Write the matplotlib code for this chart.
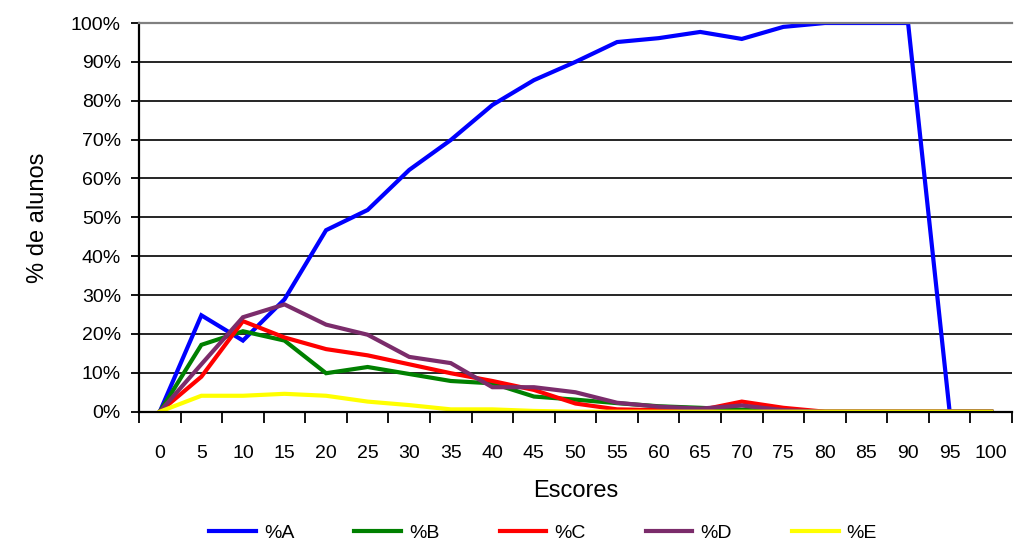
import numpy as np
import matplotlib
matplotlib.use("Agg")
import matplotlib.pyplot as plt
from matplotlib.ticker import FixedLocator, PercentFormatter

plt.rcParams['font.family'] = ['Liberation Sans', 'DejaVu Sans']

# escores (categorias do eixo x)
escores = [0, 5, 10, 15, 20, 25, 30, 35, 40, 45, 50, 55, 60, 65, 70, 75, 80, 85, 90, 95, 100]

# % de alunos por classe
pA = [0, 24.8, 18.3, 28.9, 46.7, 51.9, 62.2, 69.9, 78.9, 85.3, 90.0, 95.1, 96.1, 97.7, 95.9, 99.0, 100, 100, 100, 0, 0]
pB = [0, 17.2, 20.7, 18.3, 9.9, 11.5, 9.7, 7.9, 7.3, 3.9, 3.1, 2.2, 1.4, 1.0, 0.5, 0, 0, 0, 0, 0, 0]
pC = [0, 9.0, 23.3, 19.1, 16.1, 14.5, 12.2, 9.9, 7.9, 5.6, 2.1, 0.6, 0.4, 0.4, 2.6, 1.0, 0, 0, 0, 0, 0]
pD = [0, 12.2, 24.3, 27.6, 22.4, 19.8, 14.1, 12.5, 6.3, 6.3, 5.0, 2.3, 1.3, 0.8, 1.6, 0.4, 0, 0, 0, 0, 0]
pE = [0, 4.1, 4.1, 4.6, 4.1, 2.6, 1.7, 0.6, 0.6, 0.2, 0, 0, 0, 0, 0, 0, 0, 0, 0, 0, 0]

series = [("%A", pA, "#0000FF"), ("%B", pB, "#008000"), ("%C", pC, "#FF0000"),
          ("%D", pD, "#7B2C6B"), ("%E", pE, "#FFFF00")]

fig = plt.figure(figsize=(10.14, 5.44), dpi=100)
ax = fig.add_axes([139/1014, 1 - 411.7/544, 873/1014, 388.7/544])

x = np.arange(len(escores))
for name, vals, col in series:
    ax.plot(x, np.array(vals) / 100, color=col, lw=3.0, label=name, solid_joinstyle='miter')

ax.set_xlim(-0.5, len(escores) - 0.5)
ax.set_ylim(0, 1)

# eixo y
ax.set_yticks(np.arange(0, 1.01, 0.1))
ax.yaxis.set_major_formatter(PercentFormatter(1.0, decimals=0))
ax.tick_params(axis='y', direction='out', length=6, width=1.3, labelsize=14, pad=7)
ax.grid(axis='y', color='black', lw=1.2)
ax.set_axisbelow(True)

# eixo x: marcas entre categorias
ax.set_xticks(x)
ax.set_xticklabels([str(e) for e in escores])
ax.xaxis.set_minor_locator(FixedLocator(np.arange(-0.5, len(escores), 1.0)))
ax.tick_params(axis='x', which='major', length=0, labelsize=14, pad=24)
ax.tick_params(axis='x', which='minor', direction='out', length=8, width=1.3)

for s in ['left', 'bottom']:
    ax.spines[s].set_color('black')
    ax.spines[s].set_linewidth(1.6)
ax.spines['top'].set_color('#808080')
ax.spines['top'].set_linewidth(1.6)
ax.spines['right'].set_visible(False)

ax.set_xlabel("Escores", fontsize=17, labelpad=13)
ax.set_ylabel("% de alunos", fontsize=17, labelpad=16)

fig.legend(loc='center', bbox_to_anchor=(543/1014, 11/544), ncol=5, frameon=False,
           fontsize=14, handlelength=2.4, handletextpad=0.4, columnspacing=3.1,
           borderpad=0.1)

fig.savefig("out.png", dpi=100)
